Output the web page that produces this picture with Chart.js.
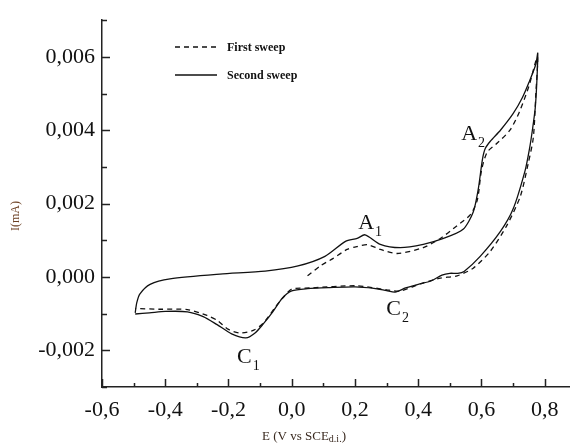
<!DOCTYPE html>
<html>
<head>
<meta charset="utf-8">
<script src="https://cdn.jsdelivr.net/npm/chart.js@4.4.0/dist/chart.umd.min.js"></script>
<style>
  html, body { margin: 0; padding: 0; background: #fff; }
  #wrap { width: 570px; height: 443px; }
</style>
</head>
<body>
<div id="wrap"><canvas id="cv"></canvas></div>
<script>
// First sweep (dashed): potential E (V) and current I (mA)
const firstE = [0.05, 0.09, 0.13, 0.175, 0.207, 0.24, 0.28, 0.333, 0.416, 0.47, 0.523, 0.565, 0.587, 0.60, 0.618, 0.65, 0.69, 0.72, 0.75, 0.777,
  0.772, 0.764, 0.748, 0.723, 0.68, 0.628, 0.574, 0.523, 0.47, 0.416, 0.343, 0.30, 0.207, 0.058, 0.0, -0.027, -0.05, -0.09, -0.12, -0.163,
  -0.20, -0.236, -0.268, -0.33, -0.42, -0.495];
const firstI = [0.00003, 0.0003, 0.0005, 0.00075, 0.00083, 0.00088, 0.00075, 0.00064, 0.0008, 0.00105, 0.0014, 0.0017, 0.0021, 0.0029, 0.0034, 0.00365, 0.0040, 0.0045, 0.0052, 0.0060,
  0.0050, 0.0038, 0.0031, 0.0022, 0.0014, 0.0007, 0.00024, 0.00003, -0.00003, -0.00016, -0.00038, -0.00035, -0.00024, -0.0003, -0.00033, -0.00056, -0.0008, -0.00126, -0.00145, -0.00153,
  -0.00143, -0.00118, -0.00105, -0.00089, -0.00088, -0.00086];

// Second sweep (solid)
const secondE = [-0.495, -0.45, -0.40, -0.33, -0.28, -0.236, -0.19, -0.145, -0.115, -0.09, -0.06, -0.03, 0.0, 0.05, 0.12, 0.20, 0.26, 0.30, 0.327, 0.36,
  0.40, 0.44, 0.475, 0.50, 0.525, 0.545, 0.596, 0.66, 0.70, 0.738, 0.752, 0.761, 0.77, 0.775, 0.778,
  0.772, 0.75, 0.73, 0.70, 0.66, 0.628, 0.612, 0.603, 0.59, 0.574, 0.542, 0.48, 0.416, 0.343, 0.28, 0.232, 0.207, 0.17, 0.105, 0.02,
  -0.084, -0.227, -0.385, -0.448, -0.48, -0.49, -0.495];
const secondI = [-0.00101, -0.00098, -0.00094, -0.00095, -0.00108, -0.0013, -0.00155, -0.00166, -0.00152, -0.00128, -0.00095, -0.00058, -0.00038, -0.00032, -0.00029, -0.00027, -0.00031, -0.00037, -0.00041, -0.0003,
  -0.0002, -0.00011, 0.00005, 0.0001, 0.0001, 0.00015, 0.00056, 0.00124, 0.00185, 0.0029, 0.0035, 0.004, 0.0046, 0.0053, 0.0061,
  0.0058, 0.0053, 0.0049, 0.00445, 0.0040, 0.0037, 0.0035, 0.0032, 0.0024, 0.00177, 0.0013, 0.00105, 0.00089, 0.0008, 0.00089, 0.00115, 0.00105, 0.00097, 0.00056, 0.0003,
  0.00016, 0.00008, -0.00005, -0.0002, -0.00046, -0.0007, -0.00098];

// tick labels
const xLabelValues = [-0.6, -0.4, -0.2, 0.0, 0.2, 0.4, 0.6, 0.8];
const yLabelValues = [-0.002, 0.0, 0.002, 0.004, 0.006];

// peak names with their anchor (E, I)
const peakNames = ['A', 'A', 'C', 'C'];
const peakSubs = ['1', '2', '1', '2'];
const peakE = [0.210, 0.536, -0.173, 0.299];
const peakI = [0.00132, 0.00373, -0.00234, -0.00105];

const toPoints = (xs, ys) => xs.map((v, i) => ({ x: v, y: ys[i] }));
const isIn = (arr, v) => arr.some(a => Math.abs(a - v) < 1e-6);

const serif = "'Liberation Serif', 'Times New Roman', serif";
const axisColor = '#222';

// inward tick marks, legend, axis titles and peak names
const decorations = {
  id: 'decorations',
  afterDraw(chart) {
    const { ctx, chartArea, scales: { x, y } } = chart;
    ctx.save();
    ctx.strokeStyle = axisColor;
    ctx.lineWidth = 1.5;
    ctx.beginPath();
    x.ticks.forEach(t => {
      const px = Math.round(x.getPixelForValue(t.value)) + 0.5;
      const len = isIn(xLabelValues, t.value) ? 8 : 4;
      ctx.moveTo(px, chartArea.bottom);
      ctx.lineTo(px, chartArea.bottom - len);
    });
    y.ticks.forEach(t => {
      const py = Math.round(y.getPixelForValue(t.value)) + 0.5;
      const len = isIn(yLabelValues, t.value) ? 8 : 5;
      ctx.moveTo(chartArea.left, py);
      ctx.lineTo(chartArea.left + len, py);
    });
    ctx.stroke();

    // legend
    ctx.fillStyle = '#111';
    ctx.font = 'bold 12px ' + serif;
    ctx.textBaseline = 'middle';
    ctx.textAlign = 'left';
    chart.data.datasets.forEach((ds, i) => {
      const ly = 47 + i * 28;
      ctx.beginPath();
      ctx.setLineDash(ds.borderDash || []);
      ctx.strokeStyle = ds.borderColor;
      ctx.lineWidth = 1.4;
      ctx.moveTo(175, ly);
      ctx.lineTo(217, ly);
      ctx.stroke();
      ctx.setLineDash([]);
      ctx.fillText(ds.label, 227, ly + 1);
    });

    // peak names
    ctx.textBaseline = 'alphabetic';
    peakNames.forEach((n, i) => {
      const px = x.getPixelForValue(peakE[i]);
      const py = y.getPixelForValue(peakI[i]);
      ctx.font = '22px ' + serif;
      ctx.fillText(n, px, py);
      const w = ctx.measureText(n).width;
      ctx.font = '14px ' + serif;
      ctx.fillText(peakSubs[i], px + w + 1, py + 7);
    });

    // axis titles
    ctx.fillStyle = '#6b3f22';
    ctx.font = '12px ' + serif;
    ctx.save();
    ctx.translate(16, 216);
    ctx.rotate(-Math.PI / 2);
    ctx.textAlign = 'center';
    ctx.textBaseline = 'middle';
    ctx.fillText('I(mA)', 0, 0);
    ctx.restore();

    ctx.fillStyle = '#3a2a20';
    ctx.textBaseline = 'middle';
    const part1 = 'E (V vs SCE', part2 = 'd.i.', part3 = ')';
    ctx.font = '13px ' + serif;
    const w1 = ctx.measureText(part1).width, w3 = ctx.measureText(part3).width;
    ctx.font = '10px ' + serif;
    const w2 = ctx.measureText(part2).width;
    let tx = 304 - (w1 + w2 + w3) / 2;
    ctx.font = '13px ' + serif;
    ctx.fillText(part1, tx, 437);
    tx += w1;
    ctx.font = '10px ' + serif;
    ctx.fillText(part2, tx, 439);
    tx += w2;
    ctx.font = '13px ' + serif;
    ctx.fillText(part3, tx, 437);
    ctx.restore();
  }
};

new Chart(document.getElementById('cv'), {
  type: 'scatter',
  data: {
    datasets: [
      {
        label: 'First sweep',
        data: toPoints(firstE, firstI),
        showLine: true,
        borderColor: '#111',
        borderWidth: 1.3,
        borderDash: [5, 4],
        pointRadius: 0,
        tension: 0.25
      },
      {
        label: 'Second sweep',
        data: toPoints(secondE, secondI),
        showLine: true,
        borderColor: '#111',
        borderWidth: 1.3,
        pointRadius: 0,
        tension: 0.25
      }
    ]
  },
  options: {
    responsive: true,
    maintainAspectRatio: false,
    animation: false,
    layout: { padding: { top: 15, right: 0, left: 0, bottom: 0 } },
    plugins: { legend: { display: false }, tooltip: { enabled: false } },
    scales: {
      x: {
        type: 'linear',
        min: -0.6,
        max: 0.88,
        afterFit: s => { s.height = 56; },
        grid: { display: false, drawTicks: false },
        border: { display: true, color: axisColor, width: 1.5 },
        ticks: {
          stepSize: 0.1,
          precision: 2,
          includeBounds: false,
          maxRotation: 0,
          autoSkip: false,
          padding: 10,
          color: '#111',
          font: { family: serif, size: 22 },
          callback: v => isIn(xLabelValues, v) ? v.toFixed(1).replace('.', ',') : ''
        }
      },
      y: {
        type: 'linear',
        min: -0.003,
        max: 0.007,
        afterFit: s => { s.width = 102; },
        grid: { display: false, drawTicks: false },
        border: { display: true, color: axisColor, width: 1.5 },
        ticks: {
          stepSize: 0.001,
          precision: 4,
          autoSkip: false,
          padding: 7,
          color: '#111',
          font: { family: serif, size: 22 },
          callback: v => isIn(yLabelValues, v) ? v.toFixed(3).replace('.', ',') : ''
        }
      }
    }
  },
  plugins: [decorations]
});
</script>
</body>
</html>
